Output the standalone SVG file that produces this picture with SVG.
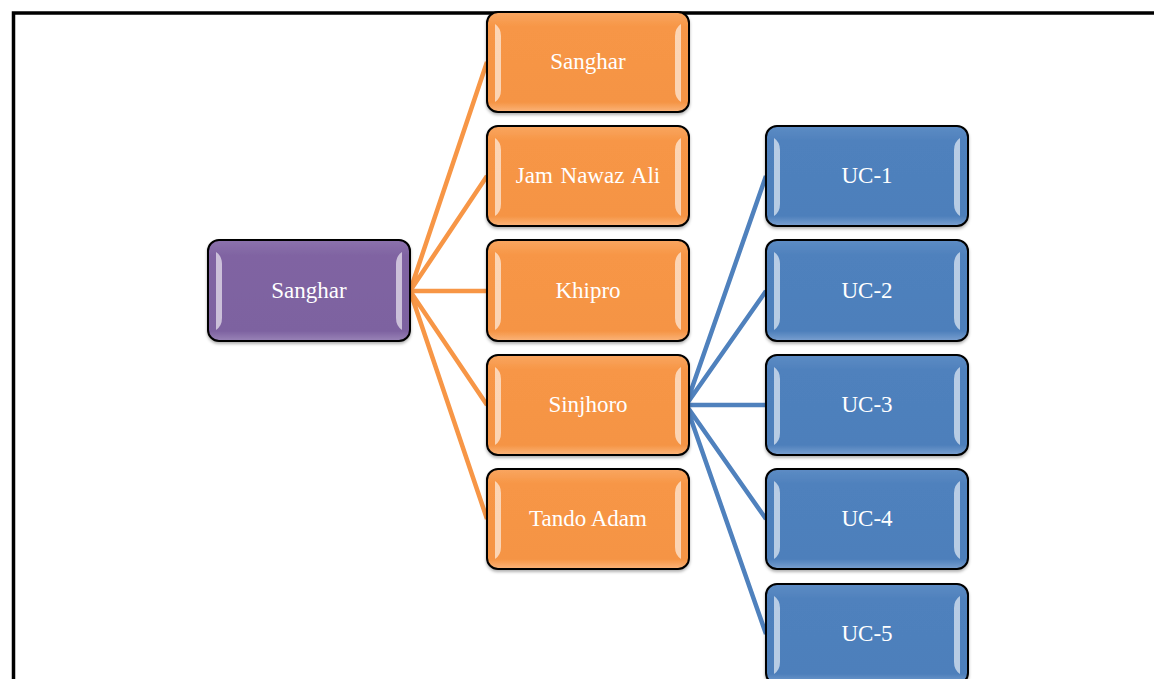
<svg xmlns="http://www.w3.org/2000/svg" width="1154" height="679" viewBox="0 0 1154 679">
<style>
.box{stroke:#000;stroke-width:2}
.lbl{font-family:"Liberation Serif","Times New Roman",serif;font-size:23px;fill:#fff;text-anchor:middle}
.hl{fill:#fff;opacity:0.6}
.co{stroke:#F79646;stroke-width:4.5;fill:none}
.cb{stroke:#4F81BD;stroke-width:4.5;fill:none}
</style>
<defs>
<linearGradient id="gp" x1="0" y1="0" x2="0" y2="1"><stop offset="0" stop-color="#8c72ad"/><stop offset="0.15" stop-color="#8064A2"/><stop offset="0.9" stop-color="#7d62a0"/><stop offset="1" stop-color="#9a84b8"/></linearGradient>
<linearGradient id="go" x1="0" y1="0" x2="0" y2="1"><stop offset="0" stop-color="#f9a661"/><stop offset="0.15" stop-color="#F79646"/><stop offset="0.9" stop-color="#f59444"/><stop offset="1" stop-color="#fbb47a"/></linearGradient>
<linearGradient id="gb" x1="0" y1="0" x2="0" y2="1"><stop offset="0" stop-color="#5d8cc4"/><stop offset="0.15" stop-color="#4F81BD"/><stop offset="0.9" stop-color="#4d7fbb"/><stop offset="1" stop-color="#7aa0d0"/></linearGradient>
<filter id="sh" x="-10%" y="-10%" width="120%" height="130%"><feDropShadow dx="0" dy="2" stdDeviation="1.5" flood-color="#000" flood-opacity="0.3"/></filter>
<g id="hlbar">
<path class="hl" d="M8 12 Q14 16 14 24 L14 78 Q14 86 8 90 Z"/>
<path class="hl" d="M194 12 Q188 16 188 24 L188 78 Q188 86 194 90 Z"/>
</g>
</defs>
<rect width="1154" height="679" fill="#fff"/>
<path d="M13.5 700 L13.5 13 L1160 13" fill="none" stroke="#000" stroke-width="3.5"/>
<g id="connectors">
<path class="co" d="M410 291 L487 62 M410 291 L487 176 M410 291 L487 291 M410 291 L487 405 M410 291 L487 519"/>
<path class="cb" d="M686 405 L766 176 M686 405 L766 291 M686 405 L766 405 M686 405 L766 519 M686 405 L766 634"/>
</g>
<g id="root">
<rect class="box" x="208" y="240" width="202" height="101" rx="11" fill="url(#gp)" filter="url(#sh)"/>
<use href="#hlbar" x="208" y="240"/>
<text class="lbl" x="309" y="298">Sanghar</text>
</g>
<g id="o1">
<rect class="box" x="487" y="12" width="202" height="100" rx="11" fill="url(#go)" filter="url(#sh)"/>
<use href="#hlbar" x="487" y="12"/>
<text class="lbl" x="588" y="69">Sanghar</text>
</g>
<g id="o2">
<rect class="box" x="487" y="126" width="202" height="100" rx="11" fill="url(#go)" filter="url(#sh)"/>
<use href="#hlbar" x="487" y="126"/>
<text class="lbl" x="588" y="183" word-spacing="2">Jam Nawaz Ali</text>
</g>
<g id="o3">
<rect class="box" x="487" y="240" width="202" height="101" rx="11" fill="url(#go)" filter="url(#sh)"/>
<use href="#hlbar" x="487" y="240"/>
<text class="lbl" x="588" y="298">Khipro</text>
</g>
<g id="o4">
<rect class="box" x="487" y="355" width="202" height="100" rx="11" fill="url(#go)" filter="url(#sh)"/>
<use href="#hlbar" x="487" y="355"/>
<text class="lbl" x="588" y="412">Sinjhoro</text>
</g>
<g id="o5">
<rect class="box" x="487" y="469" width="202" height="100" rx="11" fill="url(#go)" filter="url(#sh)"/>
<use href="#hlbar" x="487" y="469"/>
<text class="lbl" x="588" y="526">Tando Adam</text>
</g>
<g id="b1">
<rect class="box" x="766" y="126" width="202" height="100" rx="11" fill="url(#gb)" filter="url(#sh)"/>
<use href="#hlbar" x="766" y="126"/>
<text class="lbl" x="867" y="183">UC-1</text>
</g>
<g id="b2">
<rect class="box" x="766" y="240" width="202" height="101" rx="11" fill="url(#gb)" filter="url(#sh)"/>
<use href="#hlbar" x="766" y="240"/>
<text class="lbl" x="867" y="298">UC-2</text>
</g>
<g id="b3">
<rect class="box" x="766" y="355" width="202" height="100" rx="11" fill="url(#gb)" filter="url(#sh)"/>
<use href="#hlbar" x="766" y="355"/>
<text class="lbl" x="867" y="412">UC-3</text>
</g>
<g id="b4">
<rect class="box" x="766" y="469" width="202" height="100" rx="11" fill="url(#gb)" filter="url(#sh)"/>
<use href="#hlbar" x="766" y="469"/>
<text class="lbl" x="867" y="526">UC-4</text>
</g>
<g id="b5">
<rect class="box" x="766" y="584" width="202" height="100" rx="11" fill="url(#gb)" filter="url(#sh)"/>
<use href="#hlbar" x="766" y="584"/>
<text class="lbl" x="867" y="641">UC-5</text>
</g>
</svg>
